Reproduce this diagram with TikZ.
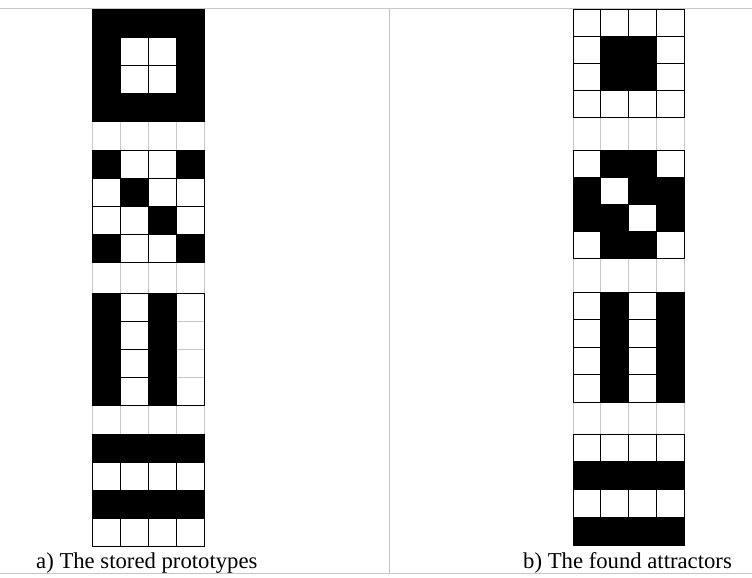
\documentclass[tikz,border=0pt]{standalone}
\usepackage{fontspec}
\setmainfont{Liberation Serif}
\tikzset{
  cellline/.style={draw=black, line width=0.9pt},
  gapline/.style={draw=black!22, line width=0.9pt},
  frameline/.style={draw=black!22, line width=1pt},
  caption/.style={anchor=base west, inner sep=0pt, font=\fontsize{22.7}{27}\selectfont}
}
\newcommand\drawpat[5]{%
  \foreach \v [count=\k from 0] in {#5}{%
    \pgfmathtruncatemacro{\rr}{div(\k,4)}%
    \pgfmathtruncatemacro{\cc}{mod(\k,4)}%
    \ifnum\v=1
      \fill[black] ({#1+\cc*#3},{#2+\rr*#4}) rectangle ++(#3,#4);
    \else
      \draw[cellline] ({#1+\cc*#3},{#2+\rr*#4}) rectangle ++(#3,#4);
    \fi
  }%
  \draw[cellline] (#1,#2) rectangle ++({4*#3},{4*#4});
}
\newcommand\drawgap[4]{% x0, ytop, w, ybottom
  \foreach \c in {0,...,4}{\draw[gapline] ({#1+\c*#3},#2) -- ({#1+\c*#3},#4);}
}
\begin{document}
\begin{tikzpicture}[x=1pt,y=-1pt]
\useasboundingbox (0,0) rectangle (752,578);
% frame lines
\draw[frameline] (0,8.5) -- (752,8.5);
\draw[frameline] (0,573) -- (752,573);
\draw[frameline] (389,8.5) -- (389,573);
% left gaps
\drawgap{92}{121}{28}{150}
\drawgap{92}{263}{28}{293}
\drawgap{92}{406}{28}{434}
% right gaps
\drawgap{573}{117}{27.8}{150}
\drawgap{573}{258}{27.8}{292}
\drawgap{573}{402}{27.8}{434}
% left patterns
\drawpat{92}{9}{28}{28}{1,1,1,1, 1,0,0,1, 1,0,0,1, 1,1,1,1}
\drawpat{92}{150}{28}{28.2}{1,0,0,1, 0,1,0,0, 0,0,1,0, 1,0,0,1}
\drawpat{92}{293}{28}{28.2}{1,0,1,0, 1,0,1,0, 1,0,1,0, 1,0,1,0}
\foreach \r in {1,2,3}{\draw[gapline] (176.5,{293+\r*28.2}) -- (203.5,{293+\r*28.2});}
\drawpat{92}{434}{28}{28.2}{1,1,1,1, 0,0,0,0, 1,1,1,1, 0,0,0,0}
% right patterns
\drawpat{573}{9}{27.8}{27}{0,0,0,0, 0,1,1,0, 0,1,1,0, 0,0,0,0}
\drawpat{573}{150}{27.8}{27}{0,1,1,0, 1,0,1,1, 1,1,0,1, 0,1,1,0}
\drawpat{573}{292}{27.8}{27.5}{0,1,0,1, 0,1,0,1, 0,1,0,1, 0,1,0,1}
\drawpat{573}{434}{27.8}{27.8}{0,0,0,0, 1,1,1,1, 0,0,0,0, 1,1,1,1}
% captions
\node[caption] (la) at (36,568) {a) The stored prototypes};
\node[caption] (lb) at (523,568) {b) The found attractors};
\end{tikzpicture}
\end{document}
